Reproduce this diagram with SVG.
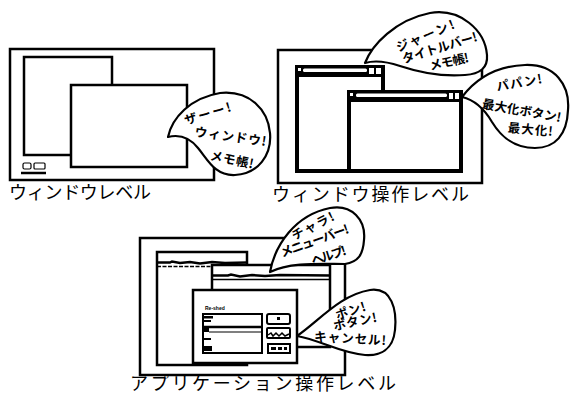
<svg xmlns="http://www.w3.org/2000/svg" width="571" height="396" viewBox="0 0 571 396">
  <defs>
    <style>
      .frame { fill: none; stroke: #000; stroke-width: 2.5; }
      .win { fill: #fff; stroke: #000; stroke-width: 2.5; }
      .heavy { fill: #000; }
      .hole { fill: #fff; }
      .thin { fill: none; stroke: #000; stroke-width: 1.2; }
      .bubble { fill: #fff; stroke: #000; stroke-width: 2.2; stroke-linejoin: round; }
      .say { font-family: "Noto Sans CJK JP", "Noto Sans", sans-serif; font-weight: 700; font-size: 12.5px; fill: #000; text-anchor: middle; }
      .caption { font-family: "Noto Sans CJK JP", "Noto Sans", sans-serif; font-weight: 400; font-size: 18px; fill: #000; }
      .tiny { font-family: "Liberation Sans", sans-serif; font-weight: 700; font-size: 5px; fill: #000; }
    </style>
  </defs>

  <!-- Window level -->
  <g id="window-level">
    <rect class="frame" x="10" y="49" width="204" height="131"/>
    <rect class="win" x="24" y="57" width="88" height="98"/>
    <rect class="win" x="71" y="85" width="116" height="82"/>
    <g id="desk-icon">
      <rect x="23" y="163" width="8" height="6" rx="1.5" class="thin" stroke-width="1.8"/>
      <rect x="34" y="163" width="11" height="6" rx="1" class="thin" stroke-width="1.8"/>
      <line x1="21" y1="173" x2="46" y2="173" stroke="#000" stroke-width="2.5"/>
    </g>
    <text class="caption" x="9" y="199" textLength="142">ウィンドウレベル</text>
  </g>

  <g id="bubble-window">
    <path class="bubble" d="M168,137 C172,118 190,98 220,93 C250,90 268,110 270,133 C272,155 258,174 235,175 C215,176 208,160 198,148 C190,138 180,134 168,137 Z"/>
    <text class="say" transform="translate(209,118) rotate(-17)" textLength="48">ザーー!</text>
    <text class="say" transform="translate(230,141) rotate(8)" textLength="72">ウィンドウ!</text>
    <text class="say" transform="translate(231,164) rotate(12)" textLength="44">メモ帳!</text>
  </g>

  <!-- Window operation level -->
  <g id="window-operation-level">
    <rect class="frame" x="278" y="50" width="204" height="133"/>
    <g id="op-back-window">
      <rect class="heavy" x="295" y="65" width="90" height="108"/>
      <rect class="hole" x="299" y="77" width="82" height="92"/>
      <rect class="hole" x="298" y="68" width="3" height="3"/>
      <rect class="hole" x="303" y="68.5" width="64" height="3.5" rx="1.5"/>
      <rect class="hole" x="369" y="68" width="5" height="6"/>
      <rect class="hole" x="376" y="68" width="5" height="6"/>
    </g>
    <g id="op-front-window">
      <rect class="heavy" x="347" y="90" width="116" height="83"/>
      <rect class="hole" x="351" y="102" width="108" height="67"/>
      <rect class="hole" x="350" y="93" width="3" height="3"/>
      <rect class="hole" x="356" y="93.5" width="91" height="3.5" rx="1.5"/>
      <rect class="hole" x="449" y="93" width="4" height="6"/>
      <rect class="hole" x="455" y="93" width="4" height="6"/>
    </g>
    <text class="caption" x="272" y="201" textLength="197">ウィンドウ操作レベル</text>
  </g>

  <g id="bubble-titlebar">
    <path class="bubble" d="M365,63 C372,45 395,20 430,13 C460,8 485,30 487,55 C488,68 480,74 465,75 C440,77 418,72 400,66 C388,62 375,60 365,63 Z"/>
    <text class="say" transform="translate(427,40) rotate(-23)" textLength="62">ジャーン!</text>
    <text class="say" transform="translate(441,52) rotate(-17)" textLength="78">タイトルバー!</text>
    <text class="say" transform="translate(450,66) rotate(-12)" textLength="40">メモ帳!</text>
  </g>

  <g id="bubble-maximize">
    <path class="bubble" d="M462,97 C475,80 495,66 525,65 C555,64 570,85 568,110 C567,135 555,148 535,148 C512,148 500,135 492,122 C485,110 475,100 462,97 Z"/>
    <text class="say" transform="translate(520,87) rotate(-10)" textLength="46">パパン!</text>
    <text class="say" transform="translate(521,115) rotate(10)" textLength="80">最大化ボタン!</text>
    <text class="say" transform="translate(530,134) rotate(5)" textLength="45">最大化!</text>
  </g>

  <!-- Application operation level -->
  <g id="application-operation-level">
    <rect class="frame" x="140" y="238" width="205" height="137"/>
    <g id="app-back-window">
      <rect class="win" x="157" y="252" width="90" height="113"/>
      <path d="M157,262.5 L170,262.5 L172,261.5 L180,263 L190,262 L200,263.5 L212,262 L225,263 L247,262.5" stroke="#000" stroke-width="2.5" fill="none"/>
      <line x1="157" y1="266.5" x2="247" y2="266.5" stroke="#000" stroke-width="1.4" stroke-dasharray="4 1.5"/>
    </g>
    <g id="app-mid-window">
      <rect class="win" x="212" y="265" width="118" height="82"/>
      <path d="M212,275.5 L228,275.5 L231,274.5 L240,276.5 L252,275 L265,276 L280,275 L330,275.5" stroke="#000" stroke-width="2.5" fill="none"/>
      <line x1="212" y1="279.5" x2="330" y2="279.5" stroke="#000" stroke-width="1.4"/>
    </g>
    <g id="app-dialog">
      <rect class="win" x="193" y="290" width="104" height="73"/>
      <text class="tiny" x="205" y="310">Re-shed</text>
      <rect x="203" y="314" width="59" height="39" fill="#fff" stroke="#000" stroke-width="2"/>
      <rect class="heavy" x="204" y="316" width="9" height="2.5"/>
      <rect class="heavy" x="204" y="320" width="7" height="2"/>
      <line x1="203" y1="327" x2="262" y2="327" stroke="#000" stroke-width="2.5"/>
      <rect class="heavy" x="203" y="328" width="6" height="4"/>
      <line x1="209" y1="332" x2="262" y2="332" stroke="#000" stroke-width="1.2"/>
      <rect class="heavy" x="204" y="338" width="7" height="2"/>
      <rect class="heavy" x="203" y="346" width="9" height="5"/>
      <rect x="267" y="314" width="23" height="10" rx="2" fill="#fff" stroke="#000" stroke-width="2"/>
      <rect class="heavy" x="277" y="317" width="3" height="3"/>
      <rect x="267" y="328" width="23" height="10" rx="1" fill="#fff" stroke="#000" stroke-width="2"/>
      <path d="M268,335 L271,333 L273,336 L276,333 L279,336 L282,333 L285,336 L289,334" stroke="#000" stroke-width="1.5" fill="none"/>
      <rect x="268" y="344" width="22" height="9" fill="#fff" stroke="#000" stroke-width="2"/>
      <rect class="heavy" x="271" y="347" width="5" height="3"/>
      <rect class="heavy" x="278" y="347" width="4" height="3"/>
      <rect class="heavy" x="284" y="347" width="3" height="3"/>
    </g>
    <text class="caption" x="130" y="390" textLength="266">アプリケーション操作レベル</text>
  </g>

  <g id="bubble-menubar">
    <path class="bubble" d="M270,272 C275,245 295,215 330,208 C352,204 366,220 364,240 C363,255 358,262 345,264 C320,264 290,262 270,272 Z"/>
    <text class="say" transform="translate(315,230) rotate(-27)" textLength="46">チャラ!</text>
    <text class="say" transform="translate(316,245) rotate(-20)" textLength="72">メニューバー!</text>
    <text class="say" transform="translate(330,260) rotate(-18)" textLength="36">ヘルプ!</text>
  </g>

  <g id="bubble-cancel">
    <path class="bubble" d="M297,336 C320,320 340,295 370,290 C392,287 397,310 395,330 C393,350 380,356 365,355 C340,353 320,340 297,336 Z"/>
    <text class="say" transform="translate(352,315) rotate(-18)" textLength="31">ポン!</text>
    <text class="say" transform="translate(356,326) rotate(-12)" textLength="44">ボタン!</text>
    <text class="say" transform="translate(350,343) rotate(3)" textLength="72">キャンセル!</text>
  </g>
</svg>
